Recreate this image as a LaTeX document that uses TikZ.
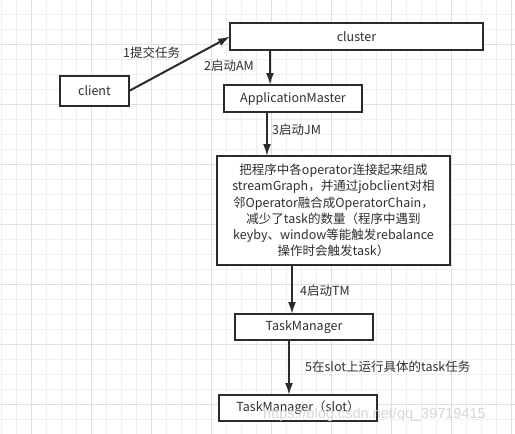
\documentclass[tikz,border=0pt]{standalone}
\usepackage{fontspec}
\setmainfont{Noto Sans CJK SC}
\newfontfamily\markfont{Liberation Sans}
\usetikzlibrary{arrows.meta,positioning}
\definecolor{grid-minor}{HTML}{EFEFEF}
\definecolor{grid-major}{HTML}{E0E0E0}
\definecolor{line-color}{HTML}{2B2B2B}
\definecolor{text-color}{HTML}{2F2F2F}

\begin{document}
\begin{tikzpicture}[x=1pt, y=-1pt,
                >=Latex,
                every node/.append style={align=center, text=text-color,
                    font=\fontsize{12.5}{16.3}\selectfont},
                box/.style={draw=line-color, line width=2pt, fill=white,
                    inner sep=0pt, outer sep=0pt},
                lbl/.style={anchor=west, inner sep=0pt},
                flow/.style={-{Latex[length=12pt,width=8pt]}, line width=2pt, draw=line-color}]

               \useasboundingbox[fill=white] (0,0) rectangle (515,434);
               % background grid
               \foreach \gx in {1,16,...,511} \draw[grid-minor, line width=1pt] (\gx,0) -- (\gx,434);
               \foreach \gy in {14,29,...,434} \draw[grid-minor, line width=1pt] (0,\gy) -- (515,\gy);
               \foreach \gx in {31,91,...,511} \draw[grid-major, line width=1pt] (\gx,0) -- (\gx,434);
               \foreach \gy in {44,104,...,434} \draw[grid-major, line width=1pt] (0,\gy) -- (515,\gy);

               \node [box, minimum width=253pt, minimum height=27pt] (cluster) at (356.5,36.5) {cluster};
               \node [box, minimum width=69pt, minimum height=30pt] (client) at (94.5,91) {client};
               \node [box, minimum width=138pt, minimum height=27pt] (am) at (293,98.5) {ApplicationMaster};
               \node [box, minimum width=233pt, minimum height=109pt] (job) at (333.5,210.5)
                     {把程序中各operator连接起来组成\\
                      streamGraph，并通过jobclient对相\\
                      邻Operator融合成OperatorChain，\\
                      减少了task的数量（程序中遇到\\
                      keyby、window等能触发rebalance\\
                      操作时会触发task）};
               \node [box, minimum width=138pt, minimum height=26pt] (tm) at (304,327) {TaskManager};
               \node [box, minimum width=158pt, minimum height=26pt] (slot) at (298,408) {TaskManager（slot）};

               \draw[flow] (client.east) -- (cluster.west);
               \draw[flow] (cluster.south -| 270,0) -- (am.north -| 270,0);
               \draw[flow] (am.south -| 267,0) -- (job.north -| 267,0);
               \draw[flow] (job.south -| 292,0) -- (tm.north -| 292,0);
               \draw[flow] (tm.south -| 289,0) -- (slot.north -| 289,0);

               \node [lbl] (l1) at (123,53) {1提交任务};
               \node [lbl] (l2) at (204,66) {2启动AM};
               \node [lbl] (l3) at (272,130) {3启动JM};
               \node [lbl] (l4) at (300,291) {4启动TM};
               \node [lbl] (l5) at (305,367) {5在slot上运行具体的task任务};

               \node [lbl, text=black!16, font=\markfont\fontsize{14.5}{14.5}\selectfont] (mark) at (263,415)
                     {https://blog.csdn.net/qq\_39719415};
        \end{tikzpicture}
\end{document}
